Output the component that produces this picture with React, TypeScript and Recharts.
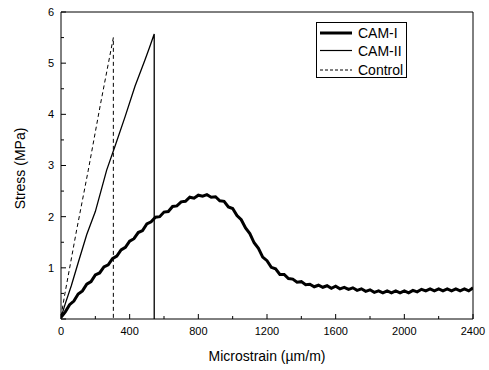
import React from 'react';
import { LineChart, Line, XAxis, YAxis, Label } from 'recharts';

// CAM-I: thick wavy curve, sampled every 25 µm/m
const camIStrain = [
  0, 25, 50, 75, 100, 125, 150, 175, 200, 225, 250, 275, 300, 325, 350, 375,
  400, 425, 450, 475, 500, 525, 550, 575, 600, 625, 650, 675, 700, 725, 750, 775,
  800, 825, 850, 875, 900, 925, 950, 975, 1000, 1025, 1050, 1075, 1100, 1125, 1150, 1175,
  1200, 1225, 1250, 1275, 1300, 1325, 1350, 1375, 1400, 1425, 1450, 1475, 1500, 1525, 1550, 1575,
  1600, 1625, 1650, 1675, 1700, 1725, 1750, 1775, 1800, 1825, 1850, 1875, 1900, 1925, 1950, 1975,
  2000, 2025, 2050, 2075, 2100, 2125, 2150, 2175, 2200, 2225, 2250, 2275, 2300, 2325, 2350, 2375,
  2400,
];
const camIStress = [
  0.03, 0.14, 0.28, 0.35, 0.49, 0.55, 0.68, 0.73, 0.86, 0.9, 1.02, 1.06, 1.18, 1.23, 1.35, 1.4,
  1.52, 1.57, 1.69, 1.73, 1.86, 1.9, 1.99, 2.0, 2.09, 2.1, 2.2, 2.21, 2.29, 2.3, 2.38, 2.36,
  2.42, 2.4, 2.43, 2.38, 2.39, 2.31, 2.3, 2.19, 2.16, 2.02, 1.94, 1.78, 1.67, 1.49, 1.38, 1.21,
  1.14, 1.01, 0.98, 0.87, 0.87, 0.79, 0.78, 0.72, 0.73, 0.67, 0.68, 0.63, 0.66, 0.62, 0.65, 0.6,
  0.64, 0.59, 0.62, 0.58, 0.61, 0.56, 0.59, 0.54, 0.57, 0.52, 0.55, 0.51, 0.55, 0.51, 0.55, 0.51,
  0.55, 0.51, 0.56, 0.53, 0.58, 0.55, 0.59, 0.55, 0.59, 0.55, 0.59, 0.55, 0.59, 0.55, 0.59, 0.55,
  0.61,
];

// CAM-II: thin solid, rises then drops at failure
const camIIStrain = [0, 25, 60, 100, 150, 200, 266, 314, 373, 431, 489, 515, 543, 543];
const camIIStress = [0.03, 0.3, 0.65, 1.1, 1.65, 2.1, 2.91, 3.37, 3.95, 4.55, 5.06, 5.3, 5.57, 0];

// Control: dashed
const controlStrain = [0, 23, 90, 159, 230, 305, 305];
const controlStress = [0.05, 0.5, 1.72, 2.91, 4.2, 5.5, 0];

const strainTicks = [0, 200, 400, 600, 800, 1000, 1200, 1400, 1600, 1800, 2000, 2200, 2400];
const stressTicks = [0, 0.5, 1, 1.5, 2, 2.5, 3, 3.5, 4, 4.5, 5, 5.5, 6];

const toPoints = (xs: number[], ys: number[]) => xs.map((x, i) => ({ x, y: ys[i] }));

const camI = toPoints(camIStrain, camIStress);
const camII = toPoints(camIIStrain, camIIStress);
const control = toPoints(controlStrain, controlStress);

const FONT = '"Liberation Sans", Arial, sans-serif';

const BottomTick = (props: any) => {
  const { x, y, payload } = props;
  const major = payload.value % 400 === 0;
  const axisY = y - 8;
  return (
    <g>
      <line x1={x} x2={x} y1={axisY} y2={axisY - (major ? 5 : 3)} stroke="#000" />
      {major && (
        <text x={x} y={y} dy="0.71em" textAnchor="middle" fontSize={11} fontFamily={FONT} fill="#000">
          {payload.value}
        </text>
      )}
    </g>
  );
};

const TopTick = (props: any) => {
  const { x, y, payload } = props;
  const major = payload.value % 400 === 0;
  return <line x1={x} x2={x} y1={y} y2={y + (major ? 5 : 3)} stroke="#000" />;
};

const LeftTick = (props: any) => {
  const { x, y, payload } = props;
  const major = Number.isInteger(payload.value);
  const axisX = x + 7;
  return (
    <g>
      <line x1={axisX} x2={axisX + (major ? 5 : 3)} y1={y} y2={y} stroke="#000" />
      {major && payload.value > 0 && (
        <text x={x} y={y} dy="0.355em" textAnchor="end" fontSize={11} fontFamily={FONT} fill="#000">
          {payload.value}
        </text>
      )}
    </g>
  );
};

const RightTick = (props: any) => {
  const { x, y, payload } = props;
  const major = Number.isInteger(payload.value);
  return <line x1={x} x2={x - (major ? 5 : 3)} y1={y} y2={y} stroke="#000" />;
};

const legendItems = [
  { name: 'CAM-I', width: 3, dash: undefined as string | undefined, y: 10 },
  { name: 'CAM-II', width: 1.2, dash: undefined as string | undefined, y: 27.5 },
  { name: 'Control', width: 1, dash: '3 2', y: 47 },
];

export default function App() {
  return (
    <div style={{ position: 'absolute', left: 0, top: 0, width: 489, height: 370, background: '#fff' }}>
      <LineChart width={489} height={370} margin={{ top: 11, right: 15, bottom: 0, left: 0 }}>
        <XAxis
          dataKey="x"
          type="number"
          domain={[0, 2400]}
          ticks={strainTicks}
          interval={0}
          tickSize={0}
          tickMargin={8}
          tickLine={false}
          tick={BottomTick}
          axisLine={{ stroke: '#000' }}
          height={51}
          allowDataOverflow
        >
          <Label
            value="Microstrain (µm/m)"
            position="insideBottom"
            offset={9}
            style={{ fontSize: 14, fontFamily: FONT, fill: '#000' }}
          />
        </XAxis>
        <XAxis
          xAxisId="top"
          orientation="top"
          dataKey="x"
          type="number"
          domain={[0, 2400]}
          ticks={strainTicks}
          interval={0}
          tickSize={0}
          tickMargin={0}
          tickLine={false}
          tick={TopTick}
          axisLine={{ stroke: '#000' }}
          height={1}
        />
        <YAxis
          type="number"
          domain={[0, 6]}
          ticks={stressTicks}
          interval={0}
          tickSize={0}
          tickMargin={7}
          tickLine={false}
          tick={LeftTick}
          axisLine={{ stroke: '#000' }}
          width={61}
          allowDataOverflow
        >
          <Label
            content={(p: any) => {
              const vb = p.viewBox || { x: 0, y: 12, width: 61, height: 307 };
              const cx = vb.x + 20;
              const cy = vb.y + vb.height / 2 + 3;
              return (
                <text
                  x={cx}
                  y={cy}
                  textAnchor="middle"
                  dominantBaseline="central"
                  transform={`rotate(-90, ${cx}, ${cy})`}
                  fontSize={14}
                  fontFamily={FONT}
                  fill="#000"
                >
                  Stress (MPa)
                </text>
              );
            }}
          />
        </YAxis>
        <YAxis
          yAxisId="right"
          orientation="right"
          type="number"
          domain={[0, 6]}
          ticks={stressTicks}
          interval={0}
          tickSize={0}
          tickMargin={0}
          tickLine={false}
          tick={RightTick}
          axisLine={{ stroke: '#000' }}
          width={1}
        />
        <Line
          data={control}
          dataKey="y"
          type="linear"
          stroke="#000"
          strokeWidth={1}
          strokeDasharray="4 3"
          dot={false}
          isAnimationActive={false}
        />
        <Line
          data={camII}
          dataKey="y"
          type="linear"
          stroke="#000"
          strokeWidth={1.3}
          dot={false}
          isAnimationActive={false}
        />
        <Line
          data={camI}
          dataKey="y"
          type="linear"
          stroke="#000"
          strokeWidth={3}
          dot={false}
          isAnimationActive={false}
        />
      </LineChart>
      <div
        style={{
          position: 'absolute',
          left: 316,
          top: 22,
          width: 89,
          height: 54,
          border: '1px solid #000',
          background: '#fff',
        }}
      >
        <svg width={89} height={54}>
          {legendItems.map((it) => (
            <g key={it.name}>
              <line
                x1={3}
                x2={35}
                y1={it.y}
                y2={it.y}
                stroke="#000"
                strokeWidth={it.width}
                strokeDasharray={it.dash}
              />
              <text x={41} y={it.y} dy="0.36em" fontSize={14} fontFamily={FONT} fill="#000">
                {it.name}
              </text>
            </g>
          ))}
        </svg>
      </div>
    </div>
  );
}
